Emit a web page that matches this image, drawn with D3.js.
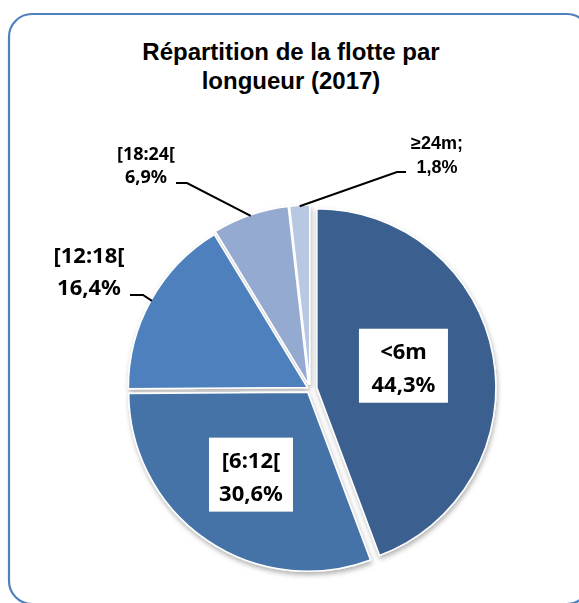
<!DOCTYPE html>
<html>
<head>
<meta charset="utf-8">
<script src="https://cdn.jsdelivr.net/npm/d3@7"></script>
<style>
  body { margin: 0; background: #fff; }
  svg { display: block; }
</style>
</head>
<body>
<div id="chart"></div>
<script>
// chart values
var categories = ["<6m", "[6:12[", "[12:18[", "[18:24[", "≥24m"];
var values = [44.3, 30.6, 16.4, 6.9, 1.8];
var valueLabels = ["44,3%", "30,6%", "16,4%", "6,9%", "1,8%"];
var title = ["Répartition de la flotte par", "longueur (2017)"];

var colors = ["#3b5f8e", "#4573a8", "#4e80bd", "#95aad0", "#b8c8e2"];

var width = 579, height = 603;
var cx = 310, cy = 389, radius = 179;
// how far each slice is pulled out of the pie
var explode = [7, 4, 3, 5, 5];

var svg = d3.select("#chart").append("svg")
    .attr("width", width)
    .attr("height", height);

var defs = svg.append("defs");
var shadow = defs.append("filter").attr("id", "shadow")
    .attr("x", "-20%").attr("y", "-20%").attr("width", "140%").attr("height", "140%");
shadow.append("feDropShadow")
    .attr("dx", 1).attr("dy", 3).attr("stdDeviation", 2.5)
    .attr("flood-color", "#000").attr("flood-opacity", 0.3);

// chart border
svg.append("rect")
    .attr("x", 9).attr("y", 14)
    .attr("width", 581).attr("height", 590)
    .attr("rx", 23).attr("ry", 23)
    .attr("fill", "#fff")
    .attr("stroke", "#4f81bd")
    .attr("stroke-width", 2.2);

// title
svg.append("text")
    .attr("x", 291).attr("y", 60)
    .attr("text-anchor", "middle")
    .style("font-family", "'Liberation Sans', Arial, sans-serif")
    .style("font-weight", "bold")
    .style("font-size", "24px")
    .selectAll("tspan")
    .data(title)
    .enter().append("tspan")
    .attr("x", 291)
    .attr("dy", function(d, i) { return i ? 29 : 0; })
    .text(function(d) { return d; });

var pie = d3.pie().sort(null).value(function(d) { return d; });
var arcs = pie(values);

var arc = d3.arc().innerRadius(0).outerRadius(radius);

function mid(d) { return (d.startAngle + d.endAngle) / 2; }
function polar(a, r) { return [Math.sin(a) * r, -Math.cos(a) * r]; }

var g = svg.append("g")
    .attr("transform", "translate(" + cx + "," + cy + ")");

var slices = g.append("g").attr("filter", "url(#shadow)");

slices.selectAll("path")
    .data(arcs)
    .enter().append("path")
    .attr("transform", function(d, i) {
        var p = polar(mid(d), explode[i]);
        return "translate(" + p[0] + "," + p[1] + ")";
    })
    .attr("d", arc)
    .attr("fill", function(d, i) { return colors[i]; })
    .attr("stroke", "#fff")
    .attr("stroke-width", 1.5)
    .attr("stroke-linejoin", "round");

// labels inside the two big slices, in white boxes
var inside = [
    {i: 0, r: 97, w: 89, h: 74, dx: -2, dy: -6},
    {i: 1, r: 104, w: 84, h: 74, dx: 0, dy: 0}
];
var lblFont = "'Noto Sans', 'Open Sans', sans-serif";

inside.forEach(function(o) {
    var d = arcs[o.i];
    var p = polar(mid(d), o.r);
    var x = p[0] + o.dx, y = p[1] + o.dy;
    g.append("rect")
        .attr("x", x - o.w / 2).attr("y", y - o.h / 2)
        .attr("width", o.w).attr("height", o.h)
        .attr("fill", "#fff");
    var t = g.append("text")
        .attr("text-anchor", "middle")
        .style("font-family", lblFont)
        .style("font-weight", "bold")
        .style("font-size", "22px")
        .attr("fill", "#000");
    t.append("tspan").attr("x", x).attr("y", y - 7).text(categories[o.i]);
    t.append("tspan").attr("x", x).attr("y", y + 26).text(valueLabels[o.i]);
});

// labels outside with leader lines
// (elbow / text anchor placement, relative to the pie centre)
var outside = [
    {i: 2, elbow: [-167, -94], end: [-180, -94], tx: -221, ty: -126, gap: 32, size: 22, font: lblFont},
    {i: 3, elbow: [-123, -206], end: [-134, -206], tx: -164, ty: -229, gap: 23, size: 18, font: lblFont},
    {i: 4, elbow: [87, -217], end: [96, -217], tx: 127, ty: -240, gap: 24, size: 18,
        font: "'Liberation Sans', Arial, sans-serif"}
];

outside.forEach(function(o) {
    var d = arcs[o.i];
    var p = polar(mid(d), radius + explode[o.i] - 1);
    g.append("path")
        .attr("d", d3.line()([p, o.elbow, o.end]))
        .attr("fill", "none")
        .attr("stroke", "#000")
        .attr("stroke-width", 2);
    var t = g.append("text")
        .attr("text-anchor", "middle")
        .style("font-family", o.font)
        .style("font-weight", "bold")
        .style("font-size", o.size + "px")
        .attr("fill", "#000");
    var first = categories[o.i] + (o.i === 4 ? ";" : "");
    t.append("tspan").attr("x", o.tx).attr("y", o.ty).text(first);
    t.append("tspan").attr("x", o.tx).attr("y", o.ty + o.gap).text(valueLabels[o.i]);
});
</script>
</body>
</html>
